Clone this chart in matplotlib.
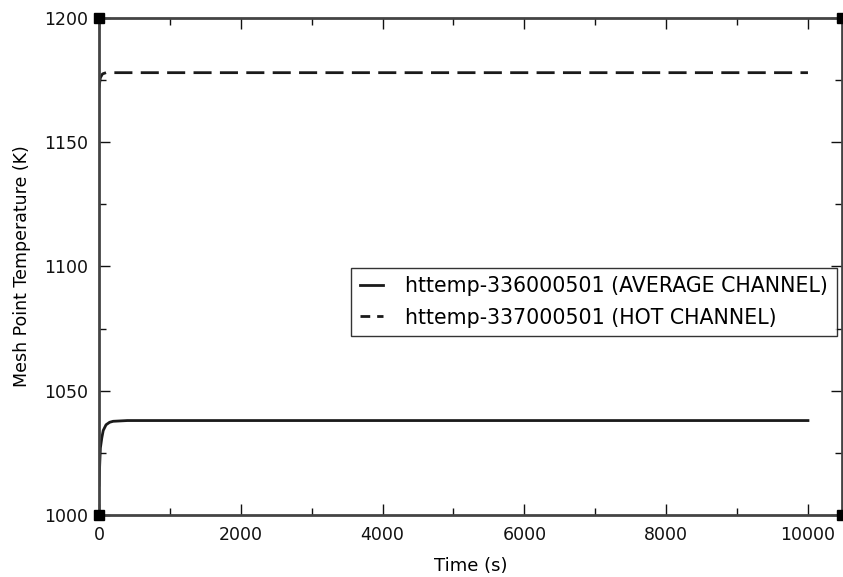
import matplotlib
matplotlib.use("Agg")
import matplotlib.pyplot as plt
from matplotlib.lines import Line2D
from matplotlib.ticker import MultipleLocator

t_avg = [0, 10, 20, 40, 60, 100, 150, 200, 400, 10000]
temp_avg = [1012, 1020, 1027, 1031, 1034, 1036.3, 1037.3, 1037.7, 1038, 1038]
t_hot = [0, 20, 50, 100, 200, 10000]
temp_hot = [1172, 1176, 1177.5, 1178, 1178, 1178]

labels = ["httemp-336000501 (AVERAGE CHANNEL)", "httemp-337000501 (HOT CHANNEL)"]

plt.rcParams['font.family'] = ['DejaVu Sans']
fig = plt.figure(figsize=(8.43, 5.77), dpi=100)
ax = fig.add_axes([0.1174, 0.1075, 0.8814, 0.8613])

ax.plot(t_avg, temp_avg, color='#1a1a1a', lw=2, label=labels[0])
ax.plot(t_hot, temp_hot, color='#1a1a1a', lw=2, ls=(0, (6.5, 3)), label=labels[1])

ax.set_xlim(0, 10480)
ax.set_ylim(1000, 1200)
ax.xaxis.set_major_locator(MultipleLocator(2000))
ax.xaxis.set_minor_locator(MultipleLocator(1000))
ax.yaxis.set_major_locator(MultipleLocator(50))
ax.yaxis.set_minor_locator(MultipleLocator(25))
ax.tick_params(which='both', direction='in', top=True, right=True, labelsize=12.5, colors='#111111')
ax.tick_params(which='major', length=8, width=1)
ax.tick_params(which='minor', length=5, width=1)
ax.tick_params(axis='x', pad=8)
ax.tick_params(axis='y', pad=8)
for s in ax.spines.values():
    s.set_linewidth(2)
    s.set_color('#444444')

ax.set_xlabel('Time (s)', fontsize=13, labelpad=9)
ax.set_ylabel('Mesh Point Temperature (K)', fontsize=12.5, labelpad=9)

# corner markers
for cx, cy in [(0, 0), (1, 0), (0, 1), (1, 1)]:
    ax.plot([cx], [cy], marker='s', ms=7.5, color='black', transform=ax.transAxes, clip_on=False, zorder=10)

handles = [Line2D([], [], color='#1a1a1a', lw=2),
           Line2D([], [], color='#1a1a1a', lw=2, ls=(0, (3.5, 2.5)))]
leg = ax.legend(handles, labels, loc='center right', bbox_to_anchor=(0.993, 0.4286), fontsize=14.8,
                frameon=True, fancybox=False, edgecolor='black', handlelength=1.1, handletextpad=1.1,
                borderpad=0.42, labelspacing=0.55, borderaxespad=0)
leg.get_frame().set_linewidth(1)

fig.savefig('out.png', dpi=100)
